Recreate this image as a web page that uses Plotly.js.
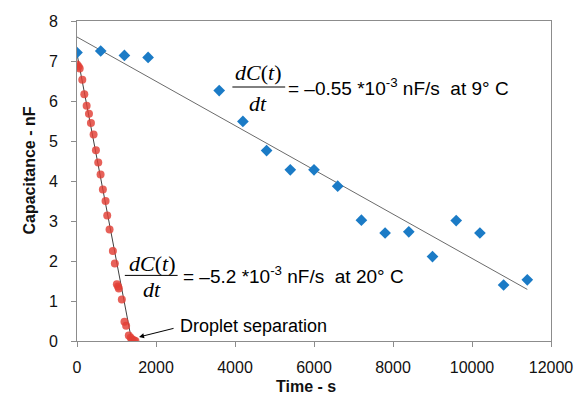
<!DOCTYPE html>
<html>
<head>
<meta charset="utf-8">
<script src="https://cdn.plot.ly/plotly-3.0.1.min.js"></script>
<style>html,body{margin:0;padding:0;background:#fff;}#chart{width:577px;height:396px;}</style>
</head>
<body>
<div id="chart"></div>
<script>
// Blue series (9 °C)
const blueTime = [0, 600, 1200, 1800, 3600, 4200, 4800, 5400, 6000, 6600, 7200, 7800, 8400, 9000, 9600, 10200, 10800, 11400];
const blueCap  = [7.21, 7.25, 7.14, 7.09, 6.26, 5.49, 4.76, 4.28, 4.28, 3.87, 3.02, 2.70, 2.73, 2.11, 3.01, 2.70, 1.40, 1.53];
// Red series (20 °C)
const redTime = [0, 40, 68, 134, 185, 244, 303, 353, 420, 479, 538, 597, 655, 723, 765, 824, 908, 958, 1009, 1040, 1059, 1135, 1202, 1244, 1311, 1360, 1395, 1440, 1480];
const redCap  = [6.91, 6.86, 6.81, 6.53, 6.17, 5.88, 5.68, 5.45, 5.16, 4.77, 4.46, 4.16, 3.79, 3.50, 3.14, 2.79, 2.25, 1.94, 1.42, 1.36, 1.31, 1.04, 0.48, 0.38, 0.14, 0.08, 0.04, 0.02, 0.00];
// Linear trendlines (endpoints)
const blueTrendTime = [0, 11400];
const blueTrendCap  = [7.60, 1.29];
const redTrendTime  = [0, 1385];
const redTrendCap   = [7.18, 0.00];
// Axis ticks
const xTicks = [0, 2000, 4000, 6000, 8000, 10000, 12000];
const yTicks = [0, 1, 2, 3, 4, 5, 6, 7, 8];

const sans = "Liberation Sans, Arial, sans-serif";
const serif = "Liberation Serif, Times New Roman, serif";

const traces = [
  {x: blueTrendTime, y: blueTrendCap, mode: 'lines', line: {color: '#6b6b6b', width: 1}, hoverinfo: 'skip'},
  {x: redTrendTime, y: redTrendCap, mode: 'lines', line: {color: '#404040', width: 1}, hoverinfo: 'skip'},
  {x: blueTime, y: blueCap, mode: 'markers', marker: {symbol: 'diamond', size: 9, color: '#1B7BC6'}},
  {x: redTime, y: redCap, mode: 'markers', marker: {symbol: 'circle', size: 8, color: 'rgba(226,62,52,0.82)'}}
];

const fs = 19;
const annotations = [
  {x: 4590, y: 6.72, text: '<i>dC</i>(<i>t</i>)', showarrow: false, font: {family: serif, size: 22, color: '#000'}, xanchor: 'center', yanchor: 'middle'},
  {x: 4577, y: 5.94, text: '<i>dt</i>', showarrow: false, font: {family: serif, size: 22, color: '#000'}, xanchor: 'center', yanchor: 'middle'},
  {x: 5296, y: 6.35, text: '= –0.55 *10<sup>-3</sup> nF/s  at 9° C', showarrow: false, font: {family: sans, size: fs, color: '#000'}, xanchor: 'left', yanchor: 'middle'},
  {x: 1892, y: 1.93, text: '<i>dC</i>(<i>t</i>)', showarrow: false, font: {family: serif, size: 22, color: '#000'}, xanchor: 'center', yanchor: 'middle'},
  {x: 1892, y: 1.29, text: '<i>dt</i>', showarrow: false, font: {family: serif, size: 22, color: '#000'}, xanchor: 'center', yanchor: 'middle'},
  {x: 2640, y: 1.64, text: '= –5.2 *10<sup>-3</sup> nF/s  at 20° C', showarrow: false, font: {family: sans, size: fs, color: '#000'}, xanchor: 'left', yanchor: 'middle'},
  {x: 2547, y: 0.37, text: 'Droplet separation', showarrow: false, font: {family: sans, size: 18, color: '#000'}, xanchor: 'left', yanchor: 'middle'},
  {x: 1571, y: 0.10, ax: 36, ay: -9, text: '', showarrow: true, arrowhead: 2, arrowsize: 1, arrowwidth: 1, arrowcolor: '#000', standoff: 0, startstandoff: 0},
  {xref: 'paper', yref: 'paper', x: -0.101, y: 0.533, text: '<b>Capacitance - nF</b>', textangle: -90, showarrow: false, font: {family: sans, size: 16, color: '#111'}, xanchor: 'center', yanchor: 'middle'},
  {xref: 'paper', yref: 'paper', x: 0.483, y: -0.1416, text: '<b>Time - s</b>', showarrow: false, font: {family: sans, size: 16, color: '#111'}, xanchor: 'center', yanchor: 'middle'}
];

const shapes = [
  {type: 'line', xref: 'x', yref: 'y', x0: 3934, x1: 5271, y0: 6.35, y1: 6.35, line: {color: '#000', width: 1}},
  {type: 'line', xref: 'x', yref: 'y', x0: 1211, x1: 2547, y0: 1.64, y1: 1.64, line: {color: '#000', width: 1}}
];

const layout = {
  width: 577, height: 396,
  margin: {l: 77, r: 26, t: 21, b: 55},
  paper_bgcolor: '#fff', plot_bgcolor: '#fff',
  showlegend: false,
  font: {family: sans, color: '#111'},
  xaxis: {
    range: [0, 12000], tickvals: xTicks, ticktext: xTicks.map(String),
    ticks: 'outside', ticklen: 5, tickcolor: '#8c8c8c',
    showline: true, linecolor: '#8c8c8c', linewidth: 1, mirror: true,
    showgrid: false, zeroline: false,
    tickfont: {family: sans, size: 16, color: '#111'},
    ticklabelstandoff: 7
  },
  yaxis: {
    range: [0, 8], tickvals: yTicks, ticktext: yTicks.map(String),
    ticks: 'outside', ticklen: 5, tickcolor: '#8c8c8c',
    showline: true, linecolor: '#8c8c8c', linewidth: 1, mirror: true,
    showgrid: false, zeroline: false,
    tickfont: {family: sans, size: 16, color: '#111'},
    ticklabelstandoff: 10
  },
  annotations: annotations,
  shapes: shapes
};

Plotly.newPlot('chart', traces, layout, {displayModeBar: false, staticPlot: true});
</script>
</body>
</html>
